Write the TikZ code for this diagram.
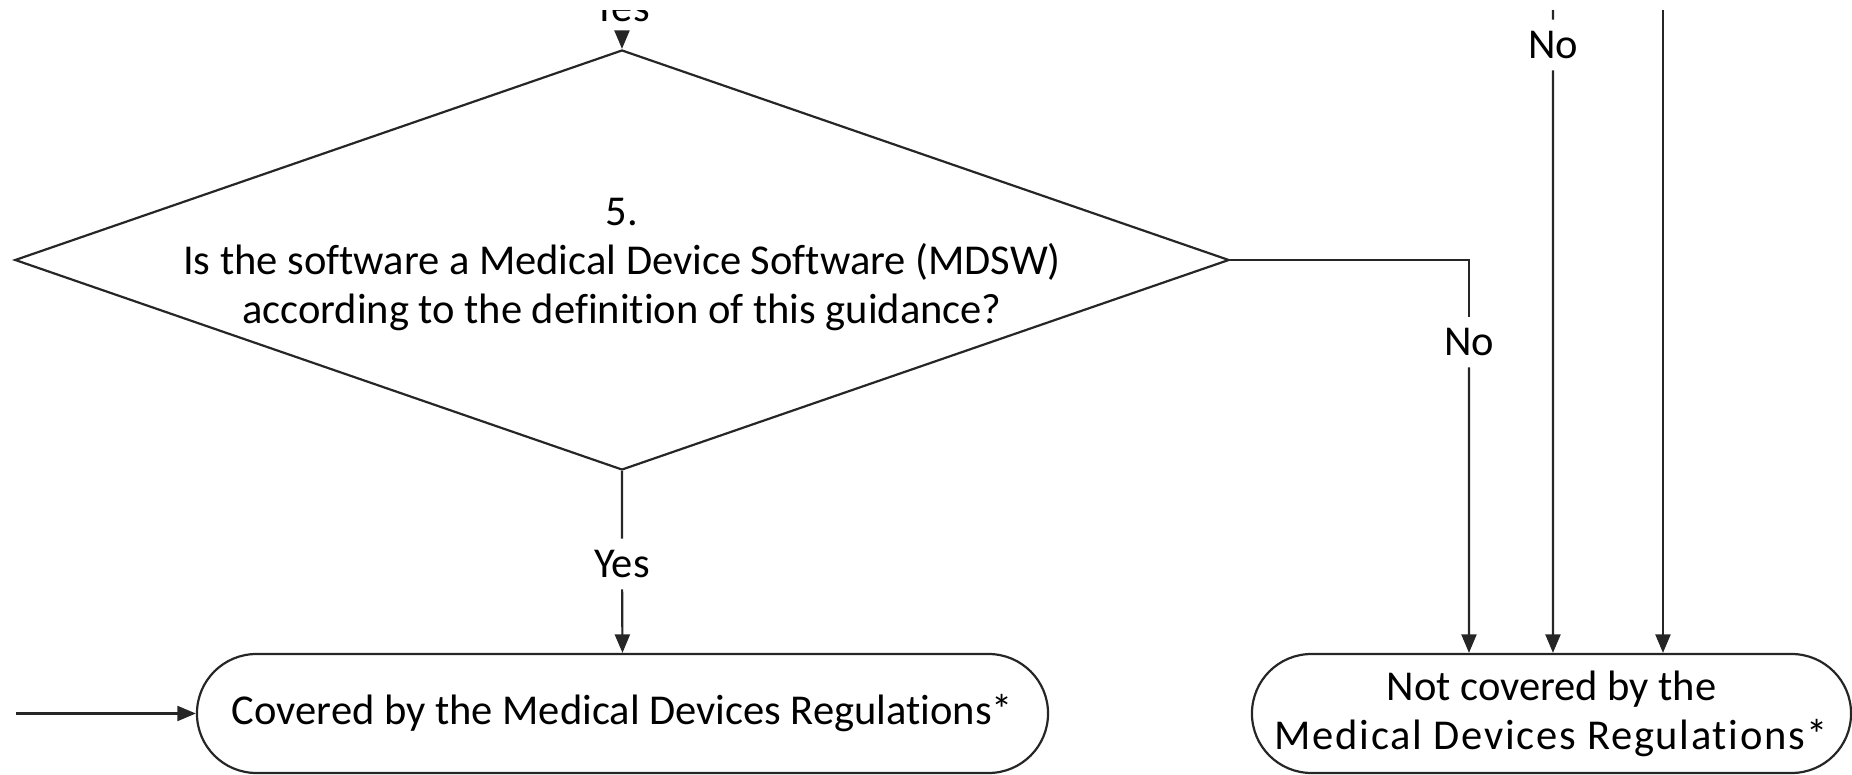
\documentclass[tikz,border=0pt]{standalone}
\usepackage{fontspec}
\setmainfont{Carlito}[Ligatures={NoCommon,NoContextual}]
\usetikzlibrary{shapes.geometric,arrows.meta}

\begin{document}
\begin{tikzpicture}[scale=0.2]
	\tikzstyle{every node}+=[inner sep=0pt, font=\fontsize{24.2}{27.9}\selectfont]
	\tikzstyle{decision}=[draw=black!85, line width=1.25pt, diamond, minimum width=691pt, minimum height=239pt]
	\tikzstyle{terminal}=[draw=black!85, line width=1.25pt, rectangle, rounded corners=33.8pt, minimum height=67.7pt, align=center]
	\tikzstyle{answer}=[fill=white, minimum height=28.5pt, minimum width=30pt]
	\tikzstyle{flow}=[draw=black!85, line width=1.25pt, -{Triangle[length=10.5pt,width=8.5pt]}]
	\tikzstyle{wire}=[draw=black!85, line width=1.25pt]
	\useasboundingbox (0,0) rectangle (185.2,-77.5);
	\clip (0,-1.1) rectangle (185.2,-77.5);
	% question 5
	\node [decision] (q5) at (62.2,-26.0) {};
	\node [align=center] (q5txt) at (62.2,-26.45) {5.\\Is the software a Medical Device Software (MDSW)\\according to the definition of this guidance?};
	% outcomes
	\node [terminal, minimum width=484.3pt] (cov) at (62.25,-71.35) {Covered by the Medical Devices Regulations*};
	\node [terminal, minimum width=340.9pt] (ncov) at (155.15,-71.35) {Not covered by the\\{\addfontfeature{LetterSpace=4}Medical Devices Regulations*}};
	% answers
	\node [answer] (yes4) at (62.2,-0.8) {Yes};
	\node [answer] (yes5) at (62.2,-56.4) {Yes};
	\node [answer] (no5) at (146.9,-34.2) {No};
	\node [answer] (no3) at (155.3,-4.5) {No};
	\coordinate (top3) at (155.3,0);
	\coordinate (top2) at (166.3,0);
	\coordinate (left) at (1.6,-71.35);
	% connectors
	\draw [flow] (yes4) -- (q5.north);
	\draw [wire] (q5.south) -- (yes5);
	\draw [flow] (yes5) -- (cov.north);
	\draw [wire] (q5.east) -| (no5);
	\draw [flow] (no5) -- (no5 |- ncov.north);
	\draw [wire] (top3) -- (no3);
	\draw [flow] (no3) -- (no3 |- ncov.north);
	\draw [flow] (top2) -- (top2 |- ncov.north);
	\draw [flow] (left) -- (cov.west);
\end{tikzpicture}
\end{document}
